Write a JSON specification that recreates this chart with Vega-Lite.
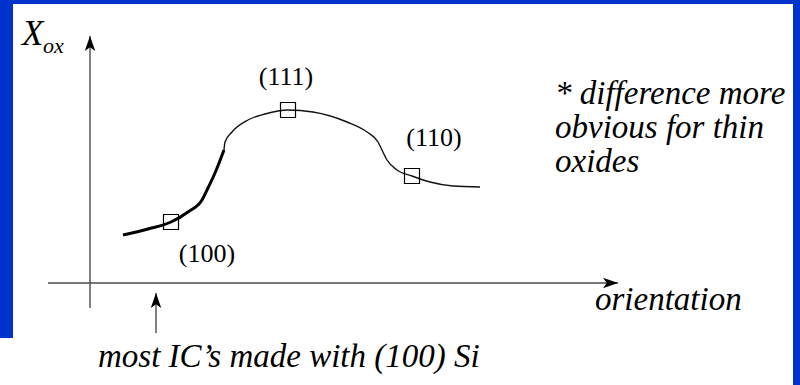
{
  "$schema": "https://vega.github.io/schema/vega-lite/v6.json",
  "width": 800,
  "height": 385,
  "autosize": {"type": "none"},
  "padding": 0,
  "background": "white",
  "config": {"view": {"fill": "white", "stroke": null}},
  "datasets": {
    "curve": [
      {"orientation": 33, "xox": 48, "part": "bold"},
      {"orientation": 58, "xox": 54, "part": "bold"},
      {"orientation": 81, "xox": 61, "part": "bold"},
      {"orientation": 98, "xox": 71, "part": "bold"},
      {"orientation": 112, "xox": 83, "part": "bold"},
      {"orientation": 118, "xox": 95, "part": "bold"},
      {"orientation": 125, "xox": 110, "part": "bold"},
      {"orientation": 134, "xox": 133, "part": "bold"},
      {"orientation": 134, "xox": 133, "part": "thin"},
      {"orientation": 135, "xox": 141, "part": "thin"},
      {"orientation": 142, "xox": 151, "part": "thin"},
      {"orientation": 158, "xox": 163, "part": "thin"},
      {"orientation": 175, "xox": 169, "part": "thin"},
      {"orientation": 198, "xox": 173, "part": "thin"},
      {"orientation": 223, "xox": 171, "part": "thin"},
      {"orientation": 257, "xox": 161, "part": "thin"},
      {"orientation": 277, "xox": 151, "part": "thin"},
      {"orientation": 288, "xox": 141, "part": "thin"},
      {"orientation": 292, "xox": 133, "part": "thin"},
      {"orientation": 297, "xox": 123, "part": "thin"},
      {"orientation": 307, "xox": 113, "part": "thin"},
      {"orientation": 322, "xox": 107, "part": "thin"},
      {"orientation": 340, "xox": 101, "part": "thin"},
      {"orientation": 363, "xox": 97, "part": "thin"},
      {"orientation": 390, "xox": 96, "part": "thin"}
    ],
    "planes": [
      {"orientation": 81, "xox": 61, "plane": "(100)", "lo": 117, "lx": 29},
      {"orientation": 198, "xox": 173, "plane": "(111)", "lo": 196, "lx": 206},
      {"orientation": 322, "xox": 107, "plane": "(110)", "lo": 344, "lx": 145}
    ],
    "arrows": [
      {"name": "x axis", "orientation": -42, "o2": 528, "xox": 0, "x2": 0, "dir": "right"},
      {"name": "y axis", "orientation": 0, "o2": 0, "xox": -25, "x2": 247, "dir": "up"},
      {"name": "pointer", "orientation": 66, "o2": 66, "xox": -50, "x2": -10, "dir": "up"}
    ],
    "frame": [
      {"side": "top", "orientation": -90, "o2": 710, "xox": 283, "x2": 279},
      {"side": "left", "orientation": -90, "o2": -77, "xox": 279, "x2": -55},
      {"side": "right", "orientation": 703, "o2": 710, "xox": 283, "x2": -102}
    ]
  },
  "encoding": {
    "x": {"field": "orientation", "type": "quantitative", "scale": {"domain": [-90, 710], "nice": false, "zero": false}, "axis": null},
    "y": {"field": "xox", "type": "quantitative", "scale": {"domain": [-102, 283], "nice": false, "zero": false}, "axis": null}
  },
  "layer": [
    {
      "data": {"name": "frame"},
      "mark": {"type": "rect", "fill": "#0033cc"},
      "encoding": {"x2": {"field": "o2"}, "y2": {"field": "x2"}}
    },
    {
      "data": {"name": "arrows"},
      "mark": {"type": "rule", "stroke": "#4a4a4a", "strokeWidth": 1.4},
      "encoding": {"x2": {"field": "o2"}, "y2": {"field": "x2"}}
    },
    {
      "data": {"name": "arrows"},
      "mark": {"type": "point", "shape": "M0,0 L0.7,2 L0,1.5 L-0.7,2 Z", "filled": true, "fill": "black", "stroke": null, "size": 225, "opacity": 1},
      "encoding": {
        "x": {"field": "o2", "type": "quantitative"},
        "y": {"field": "x2", "type": "quantitative"},
        "angle": {"field": "dir", "type": "nominal", "scale": {"domain": ["up", "right"], "range": [0, 90]}, "legend": null}
      }
    },
    {
      "data": {"name": "curve"},
      "transform": [{"filter": "datum.part === 'bold'"}],
      "mark": {"type": "line", "interpolate": "monotone", "stroke": "black", "strokeWidth": 3}
    },
    {
      "data": {"name": "curve"},
      "transform": [{"filter": "datum.part === 'thin'"}],
      "mark": {"type": "line", "interpolate": "monotone", "stroke": "#111", "strokeWidth": 1.4}
    },
    {
      "data": {"name": "planes"},
      "mark": {"type": "point", "shape": "square", "size": 225, "filled": false, "stroke": "black", "strokeWidth": 1.2, "opacity": 1}
    },
    {
      "data": {"name": "planes"},
      "mark": {"type": "text", "font": "Liberation Serif", "fontSize": 26, "align": "center", "baseline": "middle", "color": "black"},
      "encoding": {
        "x": {"field": "lo", "type": "quantitative"},
        "y": {"field": "lx", "type": "quantitative"},
        "text": {"field": "plane"}
      }
    },
    {
      "data": {"values": [{"orientation": -68, "xox": 238, "t": "X"}]},
      "mark": {"type": "text", "font": "Liberation Serif", "fontStyle": "italic", "fontSize": 35, "align": "left", "baseline": "alphabetic", "color": "black"},
      "encoding": {"text": {"field": "t"}}
    },
    {
      "data": {"values": [{"orientation": -47, "xox": 230, "t": "ox"}]},
      "mark": {"type": "text", "font": "Liberation Serif", "fontStyle": "italic", "fontSize": 22, "align": "left", "baseline": "alphabetic", "color": "black"},
      "encoding": {"text": {"field": "t"}}
    },
    {
      "data": {"values": [
        {"orientation": 505, "xox": -27, "t": "orientation"},
        {"orientation": 8, "xox": -84, "t": "most IC’s made with (100) Si"},
        {"orientation": 465, "xox": 179, "t": "* difference more"},
        {"orientation": 465, "xox": 145, "t": "obvious for thin"},
        {"orientation": 465, "xox": 111, "t": "oxides"}
      ]},
      "mark": {"type": "text", "font": "Liberation Serif", "fontStyle": "italic", "fontSize": 33, "align": "left", "baseline": "alphabetic", "color": "black"},
      "encoding": {"text": {"field": "t"}}
    }
  ]
}
